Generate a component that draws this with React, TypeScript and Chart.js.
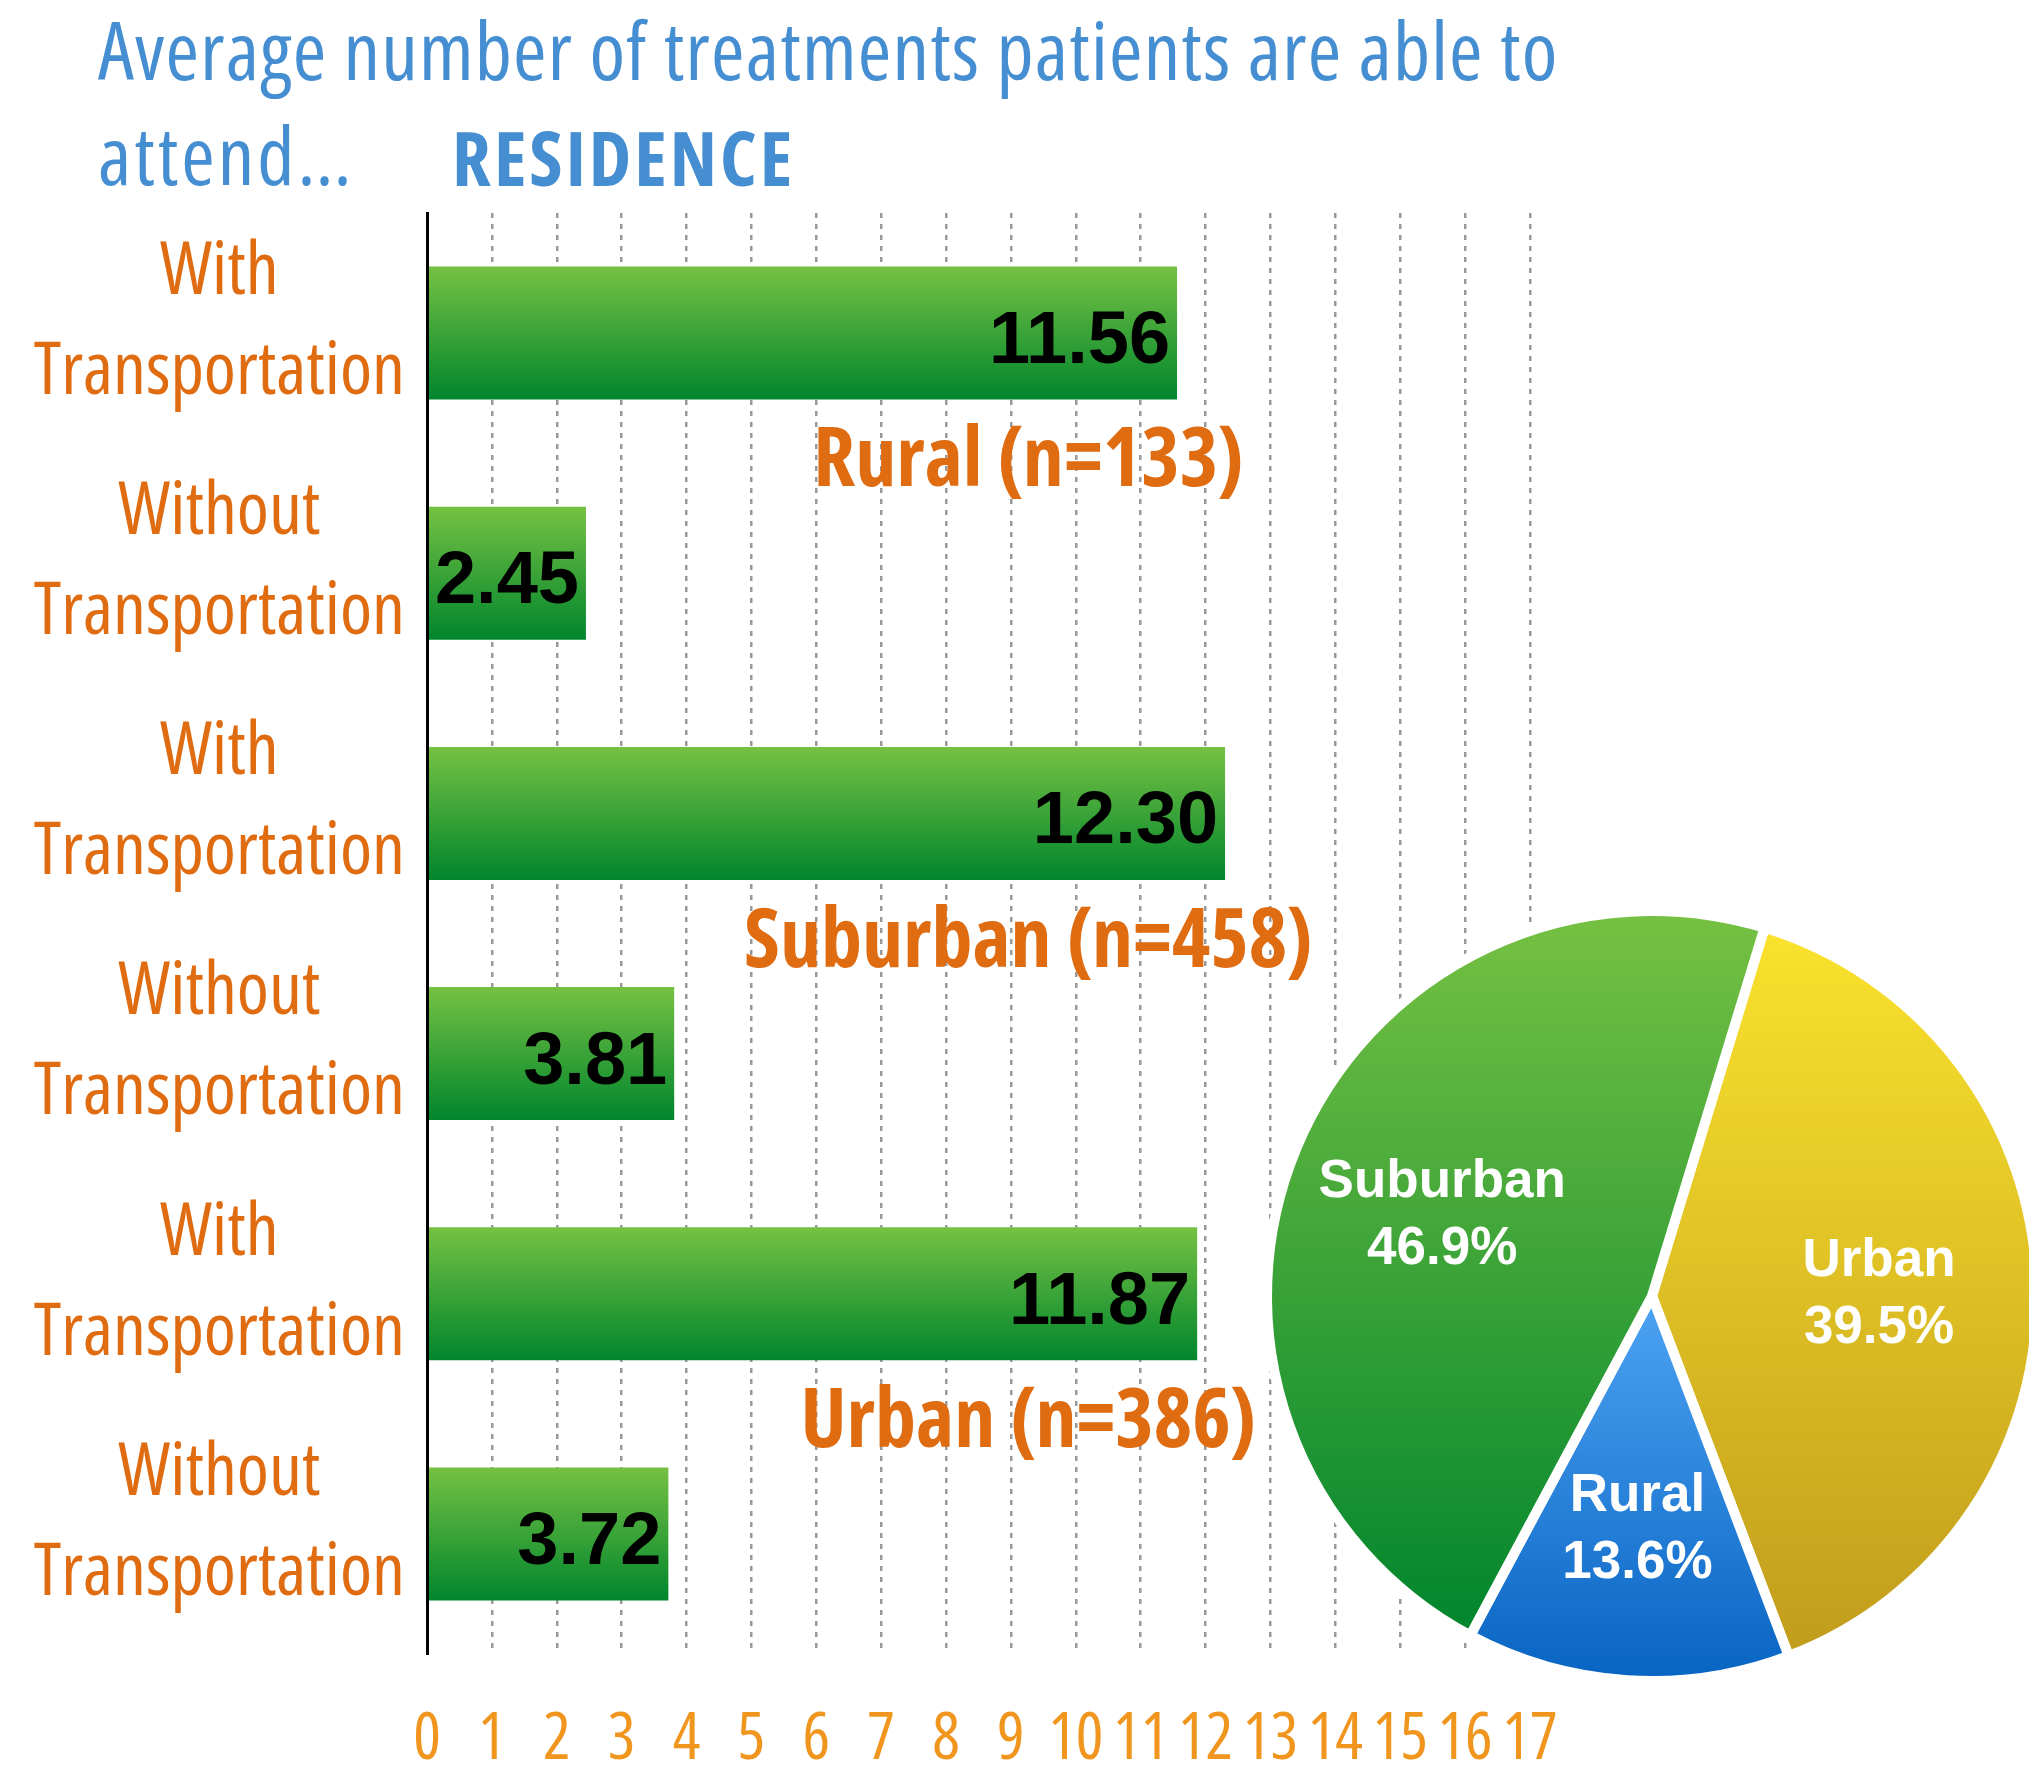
import React, { useEffect, useRef } from "react";
import { Chart, registerables } from "chart.js";

Chart.register(...registerables);

// ---------- data ----------
const titleLine1 = "Average number of treatments patients are able to";
const titleLine2 = "attend…";
const titleTag = "RESIDENCE";

const categoryLabels: string[][] = [
  ["With", "Transportation"],
  ["Without", "Transportation"],
  ["With", "Transportation"],
  ["Without", "Transportation"],
  ["With", "Transportation"],
  ["Without", "Transportation"],
];
const barValues = [11.56, 2.45, 12.3, 3.81, 11.87, 3.72];
const groupLabels = ["Rural (n=133)", "Suburban (n=458)", "Urban (n=386)"];
const xMin = 0;
const xMax = 17;
const xStep = 1;

const pieLabels = ["Urban", "Rural", "Suburban"];
const pieValues = [39.5, 13.6, 46.9];

// ---------- styles ----------
const OPEN = "'Open Sans'";
const ARIAL = "'Liberation Sans', Arial, Helvetica";
const BLUE = "#458ed2";
const ORANGE = "#e06c12";
const TICK_ORANGE = "#f0961f";
const BAR_TOP = "#76c143";
const BAR_BOTTOM = "#00862d";
const PIE_COLORS: Record<string, [string, string]> = {
  Urban: ["#fae22d", "#c19c1c"],
  Rural: ["#4ea3f3", "#0864c2"],
  Suburban: ["#76c143", "#00852d"],
};
const GROUP_LABEL_X = 9.27;

const barDecor = {
  id: "barDecor",
  beforeDatasetsDraw(chart: any) {
    const ctx = chart.ctx;
    const meta = chart.getDatasetMeta(0);
    meta.data.forEach((el: any) => {
      const top = el.y - el.height / 2;
      const bottom = el.y + el.height / 2;
      const g = ctx.createLinearGradient(0, top, 0, bottom);
      g.addColorStop(0, BAR_TOP);
      g.addColorStop(1, BAR_BOTTOM);
      el.options = Object.assign({}, el.options, { backgroundColor: g });
    });
  },
  afterDatasetsDraw(chart: any) {
    const ctx = chart.ctx;
    const meta = chart.getDatasetMeta(0);
    const xs = chart.scales.x;
    const ys = chart.scales.y;
    ctx.save();
    // value labels
    ctx.font = `700 74px ${ARIAL}`;
    ctx.fillStyle = "#000";
    ctx.textAlign = "right";
    ctx.textBaseline = "alphabetic";
    meta.data.forEach((el: any, i: number) => {
      ctx.fillText(barValues[i].toFixed(2), el.x - 7, el.y + 30);
    });
    // group labels
    ctx.font = `700 82px ${OPEN}`;
    (ctx as any).fontStretch = "condensed";
    ctx.fillStyle = ORANGE;
    ctx.textAlign = "center";
    groupLabels.forEach((lab, k) => {
      const y = (ys.getPixelForValue(2 * k) + ys.getPixelForValue(2 * k + 1)) / 2;
      ctx.fillText(lab, xs.getPixelForValue(GROUP_LABEL_X), y + 33);
    });
    ctx.restore();
  },
};

function sectorYRange(cy: number, r: number, a0: number, a1: number) {
  const ys = [cy, cy + r * Math.sin(a0), cy + r * Math.sin(a1)];
  const cands = [-Math.PI / 2, Math.PI / 2, (3 * Math.PI) / 2, (5 * Math.PI) / 2];
  cands.forEach((t) => {
    if (t >= a0 && t <= a1) ys.push(cy + r * Math.sin(t));
  });
  return [Math.min(...ys), Math.max(...ys)];
}

const pieDecor = {
  id: "pieDecor",
  beforeDatasetsDraw(chart: any) {
    const ctx = chart.ctx;
    const meta = chart.getDatasetMeta(0);
    meta.data.forEach((arc: any, i: number) => {
      const [t, b] = sectorYRange(arc.y, arc.outerRadius, arc.startAngle, arc.endAngle);
      const g = ctx.createLinearGradient(0, t, 0, b);
      const c = PIE_COLORS[pieLabels[i]];
      g.addColorStop(0, c[0]);
      g.addColorStop(1, c[1]);
      arc.options = Object.assign({}, arc.options, { backgroundColor: g });
    });
  },
  afterDatasetsDraw(chart: any) {
    const ctx = chart.ctx;
    const meta = chart.getDatasetMeta(0);
    ctx.save();
    ctx.font = `700 53px ${ARIAL}`;
    ctx.fillStyle = "#fff";
    ctx.textAlign = "center";
    ctx.textBaseline = "alphabetic";
    meta.data.forEach((arc: any, i: number) => {
      const mid = (arc.startAngle + arc.endAngle) / 2;
      const d = arc.outerRadius * 0.59;
      const x = arc.x + Math.cos(mid) * d;
      const y = arc.y + Math.sin(mid) * d;
      ctx.fillText(pieLabels[i], x, y - 33 + 21);
      ctx.fillText(pieValues[i].toFixed(1) + "%", x, y + 34 + 21);
    });
    ctx.restore();
  },
};

export default function App() {
  const barRef = useRef<HTMLCanvasElement>(null);
  const pieRef = useRef<HTMLCanvasElement>(null);

  useEffect(() => {
    const bar = new Chart(barRef.current as HTMLCanvasElement, {
      type: "bar",
      data: {
        labels: categoryLabels,
        datasets: [
          {
            data: barValues,
            backgroundColor: BAR_TOP,
            borderWidth: 0,
            barPercentage: 1,
            categoryPercentage: 0.554,
          },
        ],
      },
      options: {
        indexAxis: "y",
        responsive: false,
        animation: false,
        layout: { padding: { left: 0, right: 499, top: 213, bottom: 0 } },
        plugins: {
          legend: { display: false },
          tooltip: { enabled: false },
          title: { display: false },
        },
        scales: {
          x: {
            type: "linear",
            position: "bottom",
            min: xMin,
            max: xMax,
            ticks: {
              stepSize: xStep,
              color: TICK_ORANGE,
              font: { family: OPEN, size: 65, weight: "400 semi-condensed" as any },
              padding: 47,
              maxRotation: 0,
              autoSkip: false,
            },
            grid: {
              color: (c: any) => (c.tick && c.tick.value === 0 ? "rgba(0,0,0,0)" : "#999999"),
              lineWidth: 2.5,
              drawTicks: false,
            },
            border: { display: false, dash: [5, 6] },
            afterFit: (s: any) => {
              s.height = 113;
              s.paddingLeft = 0;
              s.paddingRight = 0;
            },
          },
          y: {
            type: "category",
            ticks: {
              color: ORANGE,
              font: { family: OPEN, size: 73, weight: "400 condensed" as any, lineHeight: 100 / 73 },
              crossAlign: "center",
              padding: 22,
              labelOffset: -10,
              autoSkip: false,
            },
            grid: { display: false, drawTicks: false },
            border: { display: true, color: "#000", width: 3, z: 1 },
            afterFit: (s: any) => {
              s.width = 427;
              s.paddingTop = 0;
              s.paddingBottom = 0;
            },
          },
        },
      } as any,
      plugins: [barDecor],
    });

    const pie = new Chart(pieRef.current as HTMLCanvasElement, {
      type: "pie",
      data: {
        labels: pieLabels,
        datasets: [
          {
            data: pieValues,
            backgroundColor: pieLabels.map((l) => PIE_COLORS[l][0]),
            borderColor: "#ffffff",
            borderWidth: 10,
          },
        ],
      },
      options: {
        responsive: false,
        animation: false,
        rotation: 17,
        layout: { padding: 30 },
        plugins: { legend: { display: false }, tooltip: { enabled: false } },
      } as any,
      plugins: [pieDecor],
    });

    return () => {
      bar.destroy();
      pie.destroy();
    };
  }, []);

  const titleBase: React.CSSProperties = {
    position: "absolute",
    fontFamily: OPEN,
    fontStretch: "75%",
    color: BLUE,
    whiteSpace: "nowrap",
    lineHeight: "105px",
  };

  return (
    <div
      style={{
        position: "absolute",
        left: 0,
        top: 0,
        width: 2029,
        height: 1767,
        overflow: "hidden",
        background: "#fff",
      }}
    >
      <canvas
        ref={barRef}
        width={2029}
        height={1767}
        style={{ position: "absolute", left: 0, top: 0, width: 2029, height: 1767 }}
      />
      <canvas
        ref={pieRef}
        width={840}
        height={840}
        style={{ position: "absolute", left: 1232, top: 876, width: 840, height: 840 }}
      />
      <div style={{ ...titleBase, left: 98, top: -4, fontSize: 81, fontWeight: 400, letterSpacing: "1.2px" }}>
        {titleLine1}
      </div>
      <div style={{ ...titleBase, left: 98, top: 101, fontSize: 81, fontWeight: 400, letterSpacing: "3px" }}>
        {titleLine2}
      </div>
      <div style={{ ...titleBase, left: 452, top: 104, fontSize: 76, fontWeight: 700, letterSpacing: "3px" }}>
        {titleTag}
      </div>
    </div>
  );
}
